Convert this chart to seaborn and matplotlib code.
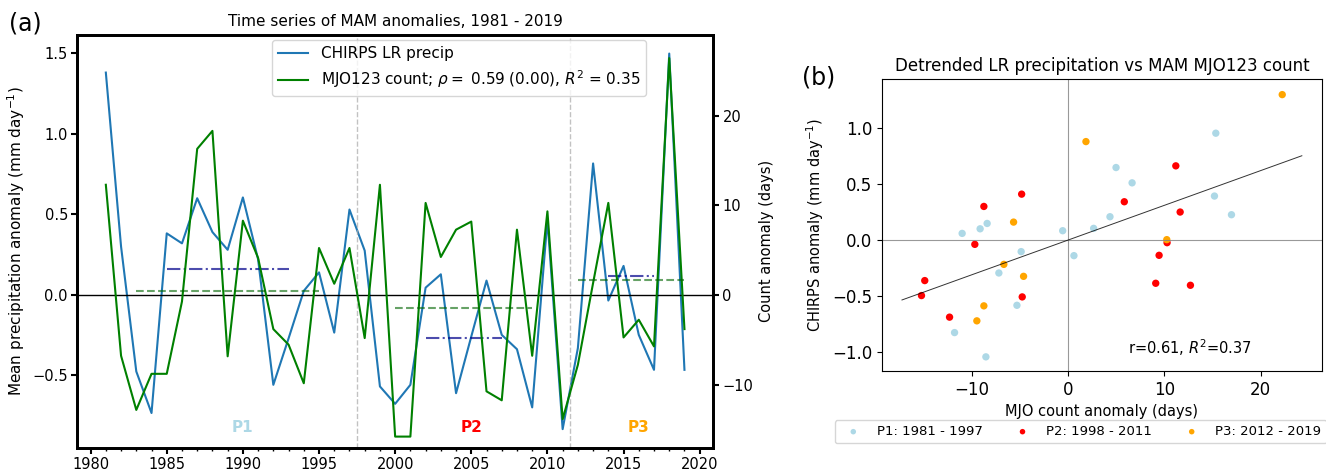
import numpy as np
import pandas as pd
import seaborn as sns
import matplotlib.pyplot as plt
from matplotlib.ticker import MultipleLocator

# yearly MAM anomalies, 1981 - 2019
years = np.arange(1981, 2020)
chirps = [1.38, 0.30, -0.475, -0.733, 0.382, 0.32, 0.60, 0.39, 0.28, 0.605,
          0.22, -0.558, -0.27, 0.025, 0.14, -0.234, 0.53, 0.275, -0.568, -0.676,
          -0.558, 0.045, 0.128, -0.61, -0.258, 0.089, -0.248, -0.337, -0.698, 0.465,
          -0.833, -0.33, 0.816, -0.035, 0.18, -0.248, -0.465, 1.498, -0.465]
mjo_count = [12.3, -6.74, -12.77, -8.75, -8.75, -0.7, 16.3, 18.3, -6.8, 8.3,
             4.15, -3.77, -5.5, -9.8, 5.26, 1.28, 5.26, -4.77, 12.3, -15.74,
             -15.74, 10.28, 4.26, 7.3, 8.2, -10.7, -11.7, 7.3, -6.74, 9.34,
             -13.8, -7.75, 1.36, 10.28, -4.7, -2.73, -5.7, 26.4, -3.77]

# period means (start, end, value)
precip_means = [(1985, 1993, 0.163), (2002, 2007, -0.268), (2014, 2017, 0.118)]
count_means = [(1983, 1995, 0.5), (2000, 2009, -1.47), (2012, 2019, 1.65)]
breaks = [1997.5, 2011.5]
period_names = ['P1', 'P2', 'P3']
period_colors = ['lightblue', 'red', 'orange']
period_label_x = [1990, 2005, 2016]

# detrended scatter, by period
p1_x = [-8.57, -11.83, -5.34, -7.22, -4.9, 0.59, -0.58, 2.64, -11.04, -9.17,
        -8.44, 4.34, 4.97, 6.64, 15.21, 16.98, 15.35]
p1_y = [-1.045, -0.828, -0.584, -0.295, -0.104, -0.14, 0.083, 0.104, 0.059, 0.10,
        0.148, 0.208, 0.648, 0.511, 0.393, 0.226, 0.955]
p2_x = [-4.85, -8.78, -9.72, -14.93, -15.27, -4.79, -12.35, 11.19, 5.83, 11.64,
        10.28, 9.45, 9.1, 12.71]
p2_y = [0.41, 0.30, -0.039, -0.363, -0.497, -0.509, -0.69, 0.663, 0.342, 0.25,
        -0.024, -0.137, -0.387, -0.405]
p3_x = [1.84, -5.69, -6.7, -4.65, -8.78, -9.51, 22.26, 10.25]
p3_y = [0.88, 0.16, -0.218, -0.325, -0.589, -0.723, 1.30, 0.003]
period_labels = ['P1: 1981 - 1997', 'P2: 1998 - 2011', 'P3: 2012 - 2019']
fit_x = [-17.3, 24.3]
fit_slope = 0.031

fig = plt.figure(figsize=(13.26, 4.70), dpi=100)
ax = fig.add_axes([0.058, 0.047, 0.480, 0.879])
ax2 = ax.twinx()

sns.lineplot(x=years, y=chirps, ax=ax, color='tab:blue', label='CHIRPS LR precip', legend=False)
sns.lineplot(x=years, y=mjo_count, ax=ax2, color='green', legend=False,
             label='MJO123 count; $\\rho=$ 0.59 (0.00), $R^2$ = 0.35')
for s, e, v in precip_means:
    ax.plot([s, e], [v, v], color='darkblue', ls='-.', alpha=0.7, lw=1.5)
for s, e, v in count_means:
    ax2.plot([s, e], [v, v], color='darkgreen', ls='--', alpha=0.6, lw=1.5)
ax.axhline(0, color='black', lw=1)
for b in breaks:
    ax.axvline(b, color='darkgray', ls='--', lw=1, alpha=0.7)
for name, c, xp in zip(period_names, period_colors, period_label_x):
    ax.text(xp, -0.82, name, color=c, fontsize=11, fontweight='bold', ha='center', va='center')

ax.set_xlim(1979.1, 2020.9)
ax2.set_ylim(-17.0, 29.0)
ax.set_xticks(np.arange(1980, 2021, 5))
ax.xaxis.set_minor_locator(MultipleLocator(1))
ax.set_ylabel('Mean precipitation anomaly (mm day$^{-1}$)', fontsize=11)
ax2.set_ylabel('Count anomaly (days)', fontsize=10.5)
ax.set_title('Time series of MAM anomalies, 1981 - 2019', fontsize=11)
for a in (ax, ax2):
    for sp in a.spines.values():
        sp.set_linewidth(2)
    a.tick_params(which='major', width=1.5, length=4, pad=2.5, labelsize=10.5)
    a.tick_params(which='minor', width=1, length=2.5)
h1, l1 = ax.get_legend_handles_labels()
h2, l2 = ax2.get_legend_handles_labels()
ax2.legend(h1 + h2, l1 + l2, loc='upper left', bbox_to_anchor=(0.306, 0.988),
           borderaxespad=0, fontsize=11)
fig.text(0.007, 0.935, '(a)', fontsize=17)

# scatter panel
bx = fig.add_axes([0.665, 0.211, 0.332, 0.621])
bx.axhline(0, color='gray', lw=0.8, alpha=0.8)
bx.axvline(0, color='gray', lw=0.8, alpha=0.8)
for xs, ys, c, lab in zip([p1_x, p2_x, p3_x], [p1_y, p2_y, p3_y], period_colors, period_labels):
    sns.scatterplot(x=xs, y=ys, ax=bx, color=c, s=28, edgecolor='none', label=lab)
fx = np.array(fit_x)
bx.plot(fx, fit_slope * fx, color='black', lw=0.7, alpha=0.8)
bx.set_xlim(-19.4, 26.4)
bx.set_ylim(-1.17, 1.44)
bx.set_xticks([-10, 0, 10, 20])
bx.tick_params(labelsize=12)
bx.text(12.7, -0.96, 'r=0.61, $R^2$=0.37', ha='center', va='center', fontsize=10.5)
bx.set_xlabel('MJO count anomaly (days)', fontsize=10.5)
bx.set_ylabel('CHIRPS anomaly (mm day$^{-1}$)', fontsize=10.5)
bx.set_title('Detrended LR precipitation vs MAM MJO123 count', fontsize=12)
bx.legend(loc='upper center', bbox_to_anchor=(0.452, -0.168), borderaxespad=0, ncol=3,
          fontsize=9.5, markerscale=0.75, columnspacing=2.0, handletextpad=0.8)
fig.text(0.605, 0.82, '(b)', fontsize=17)

fig.savefig('out.png', dpi=100)
